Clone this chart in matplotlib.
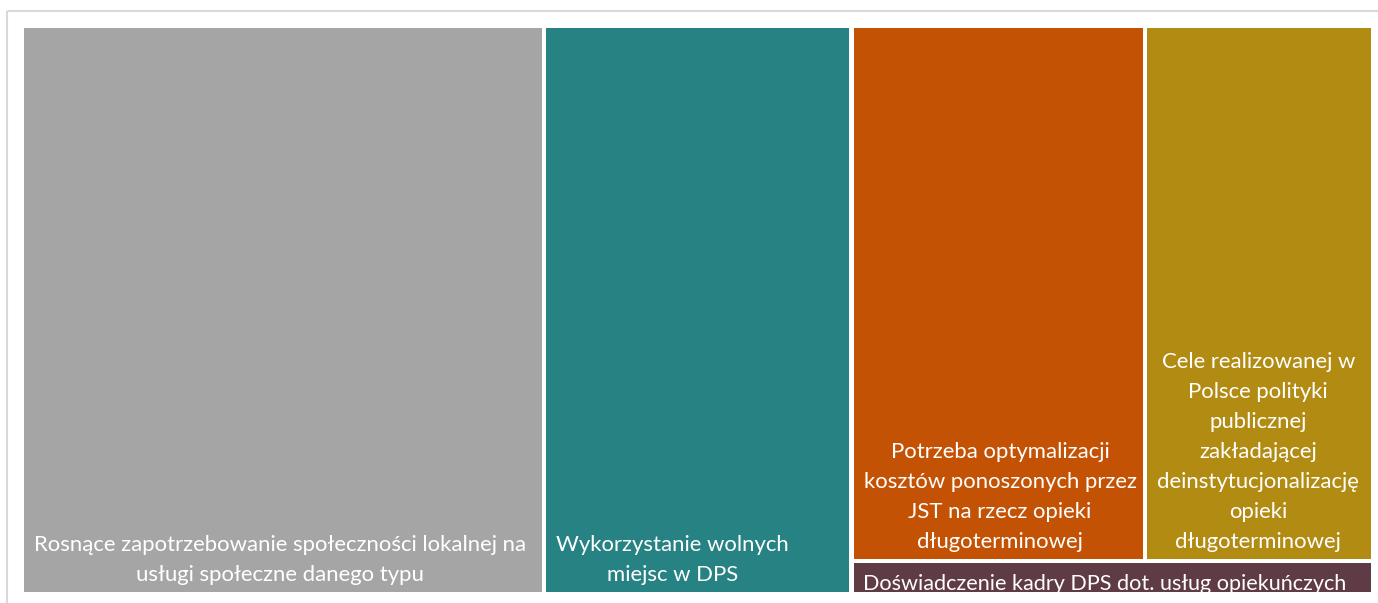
import matplotlib.pyplot as plt
from matplotlib.patches import Rectangle

# treemap data (counts)
labels = [
    "Rosnące zapotrzebowanie społeczności lokalnej na\nusługi społeczne danego typu",
    "Wykorzystanie wolnych\nmiejsc w DPS",
    "Potrzeba optymalizacji\nkosztów ponoszonych przez\nJST na rzecz opieki\ndługoterminowej",
    "Cele realizowanej w\nPolsce polityki\npublicznej\nzakładającej\ndeinstytucjonalizację\nopieki\ndługoterminowej",
    "Doświadczenie kadry DPS dot. usług opiekuńczych",
]
values = [17, 10, 9, 7, 1]
colors = ["#A5A5A5", "#278283", "#C45204", "#B28B13", "#5F3B45"]

plt.rcParams['font.family'] = ['Lato', 'DejaVu Sans']

W, H = 1378, 603
fig = plt.figure(figsize=(W / 100, H / 100), dpi=100)
ax = fig.add_axes([0, 0, 1, 1])
ax.set_xlim(0, W)
ax.set_ylim(H, 0)
ax.axis('off')

# chart frame
ax.add_patch(Rectangle((6.5, 10.5), W, H, fill=False, ec='#D9D9D9', lw=1.5))

# plot area and gap between tiles
x0, x1, y0, y1 = 22.0, 1373.5, 26.0, 594.5
gap = 2.25

# layout: two full-height columns, then a column with a row (3rd, 4th) on top of the 5th
total = sum(values)
rects = []
cx = x0
for v in values[:2]:
    w = v / total * (x1 - x0)
    rects.append((cx, y0, w, y1 - y0))
    cx += w
rest = sum(values[2:])
top_h = sum(values[2:4]) / rest * (y1 - y0)
rx = cx
for v in values[2:4]:
    w = v / sum(values[2:4]) * (x1 - cx)
    rects.append((rx, y0, w, top_h))
    rx += w
rects.append((cx, y0 + top_h, x1 - cx, (y1 - y0) - top_h))

for i, (lab, col, (x, y, w, h)) in enumerate(zip(labels, colors, rects)):
    p = Rectangle((x + gap, y + gap), w - 2 * gap, h - 2 * gap, fc=col, ec='none')
    ax.add_patch(p)
    if i < 4:
        ax.text(x + gap + 10, y + h - gap - 7, lab, ha='left', va='bottom',
                multialignment='center', color='white', fontsize=15.9,
                linespacing=1.62)
    else:
        t = ax.text(x + gap + 9, y + gap + 11, lab, ha='left', va='top',
                    color='white', fontsize=15.6)
        t.set_clip_path(p)

fig.savefig("out.png", dpi=100)
